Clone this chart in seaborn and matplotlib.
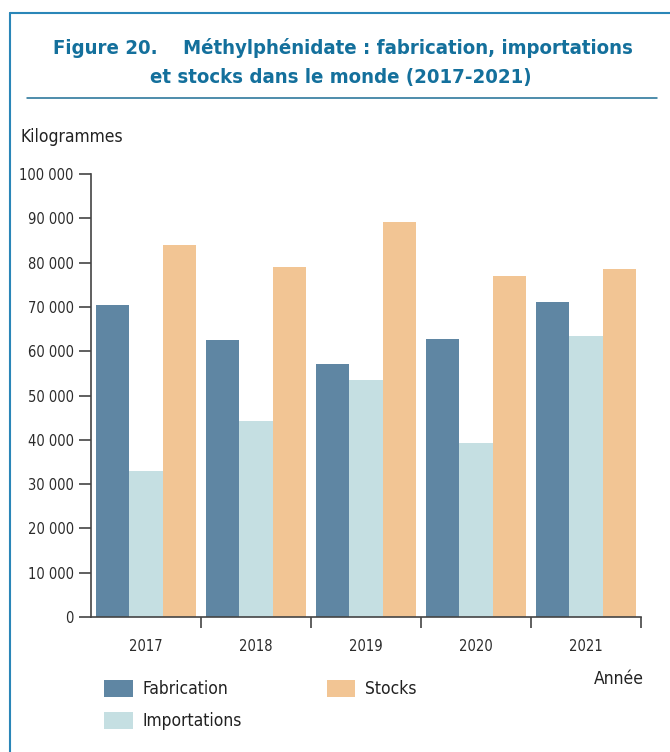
import matplotlib
matplotlib.use('Agg')
import matplotlib.pyplot as plt
from matplotlib import font_manager
from matplotlib.lines import Line2D
from matplotlib.patches import Patch
from matplotlib.ticker import FuncFormatter
import seaborn as sns
import pandas as pd

# Data (kilogrammes)
years = ['2017', '2018', '2019', '2020', '2021']
fabrication = [70400, 62600, 57000, 62800, 71100]
importations = [33000, 44200, 53600, 39200, 63500]
stocks = [83900, 79100, 89200, 76900, 78500]
series_names = ['Fabrication', 'Importations', 'Stocks']
colors = ['#5f86a3', '#c5dfe2', '#f2c594']

# Pick a narrow font if there is one
installed = {f.name for f in font_manager.fontManager.ttflist}
if 'Liberation Sans Narrow' in installed:
    font = 'Liberation Sans Narrow'
    stretch = 'normal'
else:
    font = 'DejaVu Sans'
    stretch = 'condensed'

sns.set_style('white')
plt.rcParams['font.family'] = [font, 'DejaVu Sans']
plt.rcParams['font.stretch'] = stretch

# Long format table for seaborn
df = pd.DataFrame({
    'Année': years * 3,
    'kg': fabrication + importations + stocks,
    'Série': [s for s in series_names for _ in years],
})

W, H = 670, 752
fig = plt.figure(figsize=(W / 100, H / 100), dpi=100)
ax = fig.add_axes([91 / W, 1 - 617 / H, 550 / W, 443 / H])

sns.barplot(data=df, x='Année', y='kg', hue='Série', hue_order=series_names,
            palette=colors, saturation=1, width=0.914, gap=0,
            linewidth=0, edgecolor='none', legend=False, ax=ax)

ax.set_xlim(-0.5, 4.5)
ax.set_ylim(0, 100000)
ax.set_xlabel('')
ax.set_ylabel('')
for side in ['top', 'right']:
    ax.spines[side].set_visible(False)
for side in ['left', 'bottom']:
    ax.spines[side].set_color('#444444')
    ax.spines[side].set_linewidth(1.2)

# y axis
ax.set_yticks(range(0, 100001, 10000))
ax.yaxis.set_major_formatter(FuncFormatter(lambda v, p: f'{int(v):,}'.replace(',', ' ')))
ax.tick_params(axis='y', direction='out', length=8.5, width=1.2, color='#444444',
               labelsize=10.5, labelcolor='#2b2b2b', pad=4, left=True)

# x axis: labels at group centres, ticks at group boundaries
ax.set_xticks(range(len(years)))
ax.set_xticklabels(years)
ax.set_xticks([0, 0.5, 1.5, 2.5, 3.5, 4.5], minor=True)
ax.tick_params(axis='x', which='major', length=0, labelsize=10.5,
               labelcolor='#2b2b2b', pad=16)
ax.tick_params(axis='x', which='minor', direction='out', length=8, width=1.2,
               color='#444444', bottom=True)

# Titles and axis names
title_color = '#14709c'
fig.text(343 / W, 1 - 48 / H, 'Figure 20.    Méthylphénidate : fabrication, importations',
         ha='center', va='center', fontsize=14.6, fontweight='bold', color=title_color)
fig.text(341 / W, 1 - 77 / H, 'et stocks dans le monde (2017-2021)',
         ha='center', va='center', fontsize=14.6, fontweight='bold', color=title_color)
fig.text(20 / W, 1 - 137 / H, 'Kilogrammes', ha='left', va='center',
         fontsize=12.5, color='#222222')
fig.text(644 / W, 1 - 679 / H, 'Année', ha='right', va='center',
         fontsize=12.5, color='#222222')

# Frame and title rule
frame_color = '#2a86b8'
fig.add_artist(Line2D([9.5 / W, 9.5 / W], [0, 1 - 13 / H], transform=fig.transFigure,
                      color=frame_color, lw=1.5))
fig.add_artist(Line2D([9.5 / W, 1], [1 - 13 / H, 1 - 13 / H], transform=fig.transFigure,
                      color=frame_color, lw=1.5))
fig.add_artist(Line2D([27 / W, 657 / W], [1 - 98 / H, 1 - 98 / H], transform=fig.transFigure,
                      color='#1d6e94', lw=1.1))

# Legend
handles = [Patch(facecolor=c, edgecolor='none', label=n) for c, n in zip(colors, series_names)]
fig.legend(handles=handles, loc='upper left', bbox_to_anchor=(104 / W, 1 - 680 / H),
           ncol=2, frameon=False, fontsize=12.5, handlelength=1.65, handleheight=1.15,
           handletextpad=0.55, columnspacing=4.9, labelspacing=0.75, borderpad=0,
           borderaxespad=0, labelcolor='#222222')

fig.savefig('out.png', dpi=100)
